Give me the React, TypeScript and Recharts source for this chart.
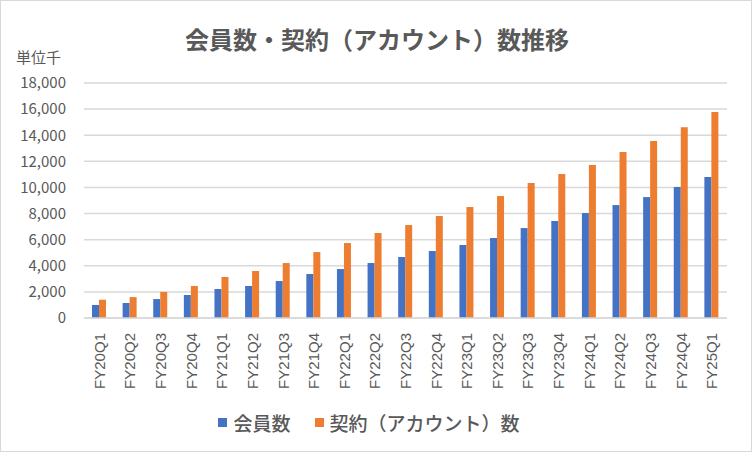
import { BarChart, Bar, XAxis, YAxis, CartesianGrid, Legend } from 'recharts';

// quarters on the category axis
const QUARTERS = [
  'FY20Q1', 'FY20Q2', 'FY20Q3', 'FY20Q4',
  'FY21Q1', 'FY21Q2', 'FY21Q3', 'FY21Q4',
  'FY22Q1', 'FY22Q2', 'FY22Q3', 'FY22Q4',
  'FY23Q1', 'FY23Q2', 'FY23Q3', 'FY23Q4',
  'FY24Q1', 'FY24Q2', 'FY24Q3', 'FY24Q4',
  'FY25Q1',
];

// members, thousands
const MEMBERS = [
  1000, 1150, 1450, 1760, 2220, 2450, 2830, 3370, 3750, 4210, 4670,
  5130, 5590, 6130, 6890, 7430, 8040, 8650, 9260, 10030, 10800,
];

// contracts (accounts), thousands
const CONTRACTS = [
  1400, 1600, 2000, 2450, 3140, 3600, 4210, 5050, 5740, 6510, 7120,
  7810, 8500, 9340, 10340, 11030, 11720, 12710, 13550, 14620, 15770,
];

const Y_TICKS = [0, 2000, 4000, 6000, 8000, 10000, 12000, 14000, 16000, 18000];

const BLUE = '#4472c4';
const ORANGE = '#ed7d31';
const GRAY_TEXT = '#595959';
const GRID = '#d9d9d9';
const JP_FONT = '"Noto Sans CJK JP", "Noto Sans", sans-serif';

const data = QUARTERS.map((q, i) => ({
  quarter: q,
  members: MEMBERS[i],
  contracts: CONTRACTS[i],
}));

function QuarterTick({ x, y, payload }: any) {
  const ty = 332; // top end of the rotated label
  return (
    <text
      x={x}
      y={ty}
      dy={5.5}
      transform={`rotate(-90, ${x}, ${ty})`}
      textAnchor="end"
      fill={GRAY_TEXT}
      fontSize={15}
      fontFamily='"Liberation Sans", Arial, sans-serif'
    >
      {payload.value}
    </text>
  );
}

function LegendBox({ payload }: any) {
  return (
    <div
      style={{
        display: 'flex',
        justifyContent: 'center',
        alignItems: 'center',
        height: 58,
        paddingLeft: 10,
        fontFamily: JP_FONT,
        fontSize: 19,
        fontWeight: 500,
        color: GRAY_TEXT,
      }}
    >
      {(payload || []).map((entry: any, i: number) => (
        <span
          key={entry.value}
          style={{ display: 'inline-flex', alignItems: 'center', marginLeft: i > 0 ? 24 : 0 }}
        >
          <span style={{ width: 9, height: 9, background: entry.color, marginRight: 6 }} />
          {entry.value}
        </span>
      ))}
    </div>
  );
}

export default function App() {
  return (
    <div
      style={{
        position: 'absolute',
        left: 0,
        top: 0,
        width: 752,
        height: 452,
        background: '#fff',
        border: `1px solid ${GRID}`,
        boxSizing: 'border-box',
      }}
    >
      <div
        style={{
          position: 'absolute',
          top: 22,
          left: 0,
          width: 752,
          textAlign: 'center',
          fontFamily: JP_FONT,
          fontSize: 24,
          fontWeight: 700,
          color: GRAY_TEXT,
          lineHeight: '32px',
        }}
      >
        会員数・契約（アカウント）数推移
      </div>
      <div
        style={{
          position: 'absolute',
          top: 46,
          left: 15,
          fontFamily: JP_FONT,
          fontSize: 15,
          color: GRAY_TEXT,
          lineHeight: '20px',
        }}
      >
        単位千
      </div>
      <BarChart
        width={750}
        height={450}
        data={data}
        margin={{ top: 82, right: 24, left: 0, bottom: 0 }}
        barGap={0}
        barSize={7}
        style={{ position: 'absolute', left: 0, top: 0 }}
      >
        <CartesianGrid vertical={false} stroke={GRID} strokeWidth={1.5} />
        <XAxis
          dataKey="quarter"
          interval={0}
          height={75}
          tickLine={false}
          axisLine={{ stroke: GRID, strokeWidth: 1.5 }}
          tick={<QuarterTick />}
        />
        <YAxis
          width={83}
          domain={[0, 18000]}
          ticks={Y_TICKS}
          tickLine={false}
          axisLine={false}
          tickMargin={12}
          tickFormatter={(v: number) => v.toLocaleString('en-US')}
          tick={{ fill: GRAY_TEXT, fontSize: 15, fontFamily: JP_FONT }}
        />
        <Legend verticalAlign="bottom" height={58} content={<LegendBox />} />
        <Bar dataKey="members" name="会員数" fill={BLUE} isAnimationActive={false} />
        <Bar dataKey="contracts" name="契約（アカウント）数" fill={ORANGE} isAnimationActive={false} />
      </BarChart>
    </div>
  );
}
